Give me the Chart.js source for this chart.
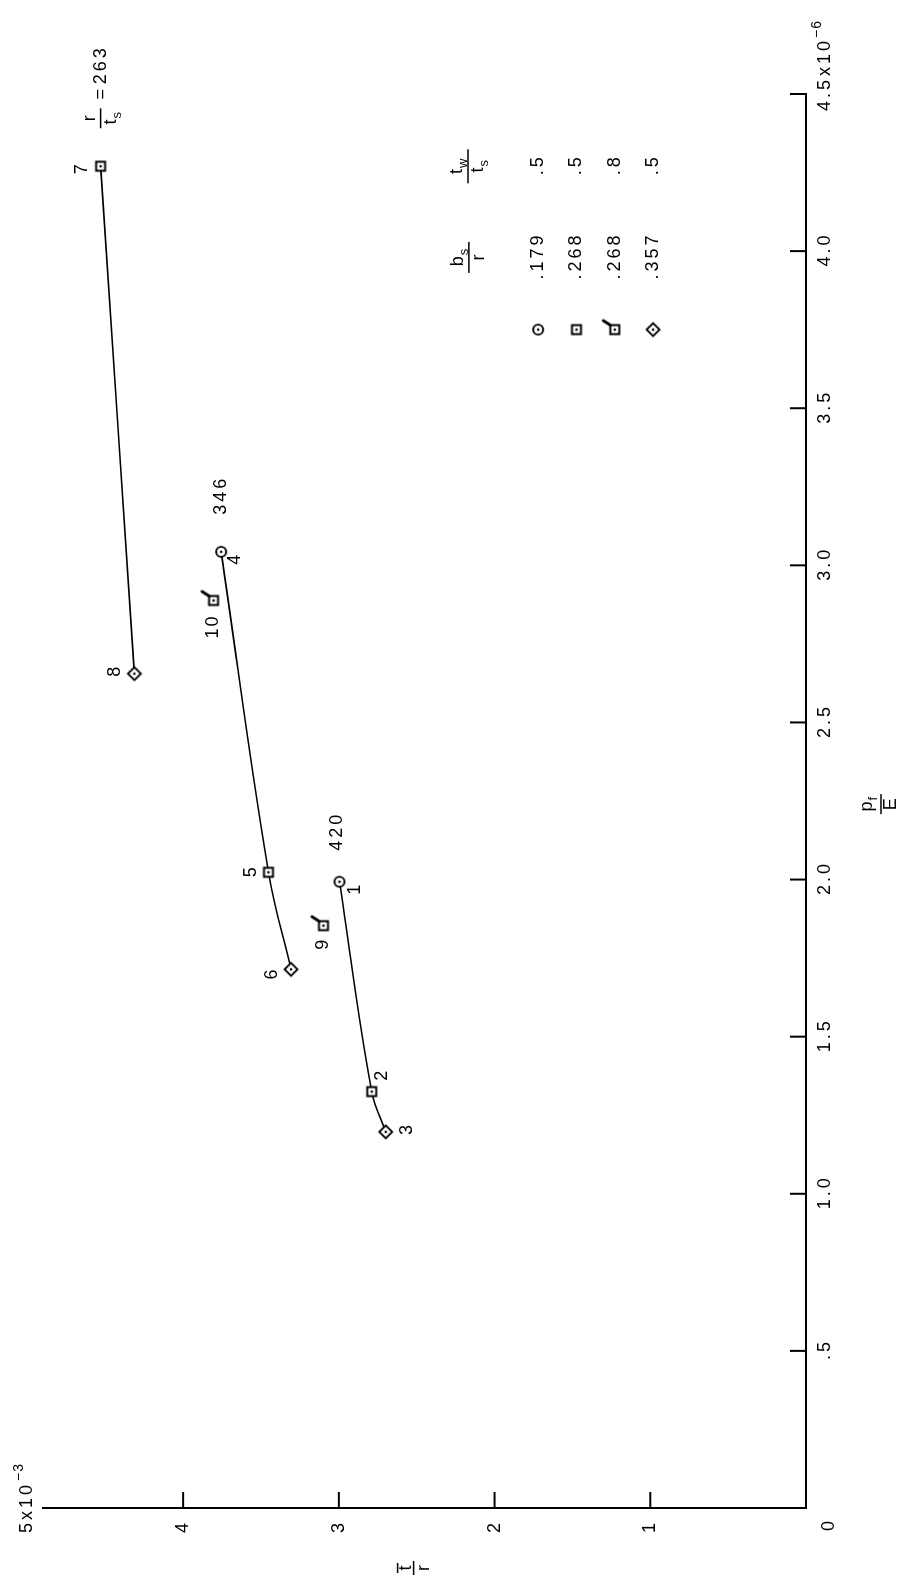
<!DOCTYPE html>
<html><head><meta charset="utf-8">
<script src="https://cdn.jsdelivr.net/npm/chart.js@4.4.0/dist/chart.umd.min.js"></script>
<style>
html,body{margin:0;padding:0;background:#fff;width:902px;height:1581px;overflow:hidden;}
#wrap{position:absolute;left:0;top:0;width:1581px;height:902px;transform-origin:0 0;transform:translateY(1581px) rotate(-90deg);background:#fff;}
</style></head><body>
<div id="wrap"><canvas id="c" width="1581" height="902"></canvas></div>
<script>
// ---- data (x = p_f/E in 1e-6, y = t/r in 1e-3) ----
const ids263 = ['7', '8'];
const pf263  = [4.27, 2.655];
const tr263  = [4.53, 4.313];
const mk263  = ['square', 'diamond'];

const ids346 = ['4', '5', '6'];
const pf346  = [3.043, 2.023, 1.714];
const tr346  = [3.756, 3.452, 3.307];
const mk346  = ['circle', 'square', 'diamond'];

const ids420 = ['1', '2', '3'];
const pf420  = [1.993, 1.325, 1.197];
const tr420  = [2.996, 2.789, 2.699];
const mk420  = ['circle', 'square', 'diamond'];

const idsFlag = ['10', '9'];
const pfFlag  = [2.888, 1.853];
const trFlag  = [3.805, 3.099];

const ratioLabels = ['263', '346', '420'];

const xTickValues = [0.5, 1, 1.5, 2, 2.5, 3, 3.5, 4, 4.5];
const xTickLabels = ['.5', '1.0', '1.5', '2.0', '2.5', '3.0', '3.5', '4.0', '4.5'];
const yTickValues = [1, 2, 3, 4];
const yTickLabels = ['1', '2', '3', '4'];

const legendMarkers = ['circle', 'square', 'flag', 'diamond'];
const legendBsR  = ['.179', '.268', '.268', '.357'];
const legendTwTs = ['.5', '.5', '.8', '.5'];

// ---- marker images (drawn in the unrotated frame) ----
function makeMarker(type) {
  const S = type === 'flag' ? 40 : 22;
  const c = document.createElement('canvas');
  c.width = S; c.height = S;
  const g = c.getContext('2d');
  const m = S / 2;
  g.strokeStyle = '#000'; g.fillStyle = '#fff'; g.lineWidth = 1.8;
  g.beginPath();
  if (type === 'circle') { g.arc(m, m, 5, 0, 2 * Math.PI); }
  else if (type === 'square' || type === 'flag') { g.rect(m - 4.5, m - 4.5, 9, 9); g.lineWidth = 2; }
  else { g.moveTo(m, m - 6.5); g.lineTo(m + 6.5, m); g.lineTo(m, m + 6.5); g.lineTo(m - 6.5, m); g.closePath(); }
  g.fill(); g.stroke();
  if (type === 'flag') {
    g.lineWidth = 3; g.lineCap = 'round';
    g.beginPath(); g.moveTo(m + 4.5, m - 4.5); g.lineTo(m + 9, m - 11.5); g.stroke();
  }
  g.fillStyle = '#000';
  g.beginPath(); g.arc(m, m, 1.3, 0, 2 * Math.PI); g.fill();
  return c;
}
const MK = { circle: makeMarker('circle'), square: makeMarker('square'), diamond: makeMarker('diamond'), flag: makeMarker('flag') };

function curve(ids, pf, tr, mk) {
  return {
    ids: ids,
    data: pf.map((x, i) => ({ x: x, y: tr[i] })),
    pointStyle: mk.map(k => MK[k]),
    pointRadius: 6,
    borderColor: '#000', backgroundColor: '#000',
    borderWidth: 1.6, tension: 0.4, showLine: true, fill: false
  };
}

const FONT = '"Liberation Sans", Arial, sans-serif';
function setFont(ctx, size) { ctx.font = size + 'px ' + FONT; }
function txt(ctx, s, x, y, size, align, ls) {
  setFont(ctx, size || 18);
  const sp = (ls == null ? 3 : ls);
  ctx.letterSpacing = sp + 'px';
  ctx.textAlign = align || 'center';
  ctx.textBaseline = 'middle';
  ctx.fillStyle = '#000';
  const shift = (align === 'center' || !align) ? sp / 2 : 0;
  ctx.fillText(s, x + shift, y);
  const w = ctx.measureText(s).width;
  ctx.letterSpacing = '0px';
  return w;
}
function line(ctx, x1, y1, x2, y2, w) {
  ctx.lineWidth = w || 2;
  ctx.beginPath(); ctx.moveTo(x1, y1); ctx.lineTo(x2, y2); ctx.stroke();
}
function mainSub(ctx, main, sub, cx, baseY) {
  ctx.letterSpacing = '0px';
  ctx.textAlign = 'left'; ctx.textBaseline = 'alphabetic'; ctx.fillStyle = '#000';
  setFont(ctx, 18); const w1 = ctx.measureText(main).width;
  setFont(ctx, 13); const w2 = sub ? ctx.measureText(sub).width + 1 : 0;
  const x0 = cx - (w1 + w2) / 2;
  setFont(ctx, 18); ctx.fillText(main, x0, baseY);
  if (sub) { setFont(ctx, 13); ctx.fillText(sub, x0 + w1 + 1, baseY + 5); }
  return w1 + w2;
}
function frac(ctx, nm, ns, dm, dsub, cx, by, barLen, numUp) {
  mainSub(ctx, nm, ns, cx, by - (numUp || 6));
  mainSub(ctx, dm, dsub, cx, by + 15);
  line(ctx, cx - barLen / 2, by, cx + barLen / 2, by, 1.5);
}

const labelOffsets = {
  '7': [-3, -19], '8': [2, -19], '4': [-8, 14], '10': [-27, 0], '5': [0, -17],
  '6': [-5, -19], '1': [-8, 16], '9': [-19, 0], '2': [16, 10], '3': [2, 21]
};

const deco = {
  id: 'deco',
  afterDraw(chart) {
    const ctx = chart.ctx, xs = chart.scales.x, ys = chart.scales.y, a = chart.chartArea;
    ctx.save();
    ctx.strokeStyle = '#000'; ctx.lineCap = 'butt';
    // inward tick marks
    xTickValues.forEach(v => { const p = xs.getPixelForValue(v); line(ctx, p, a.bottom, p, a.bottom - 16, 2); });
    yTickValues.forEach(v => { const p = ys.getPixelForValue(v); line(ctx, a.left, p, a.left + 16, p, 2); });
    // tick labels
    xTickValues.forEach((v, i) => {
      if (v === 4.5) return;
      txt(ctx, xTickLabels[i], xs.getPixelForValue(v), a.bottom + 19, 18, 'center', 3);
    });
    // 4.5x10^-6
    {
      const cx = xs.getPixelForValue(4.5);
      setFont(ctx, 18); ctx.letterSpacing = '3px';
      const w = ctx.measureText(xTickLabels[8]).width;
      ctx.letterSpacing = '0px';
      const x0 = cx - w / 2;
      txt(ctx, xTickLabels[8], x0, a.bottom + 19, 18, 'left', 3);
      const w2 = txt(ctx, 'x10', x0 + w + 1, a.bottom + 19, 18, 'left', 3);
      txt(ctx, '\u22126', x0 + w + w2 + 1, a.bottom + 11, 14, 'left', 1);
    }
    yTickValues.forEach((v, i) => {
      txt(ctx, yTickLabels[i], a.left - 20, ys.getPixelForValue(v), 18, 'center', 0);
    });
    // 5x10^-3
    {
      const yy = ys.getPixelForValue(5);
      const w = txt(ctx, '5x10', a.left - 25, yy, 18, 'left', 3);
      txt(ctx, '\u22123', a.left - 25 + w + 1, yy - 8, 14, 'left', 1);
    }
    // corner 0
    txt(ctx, '0', a.left - 18, a.bottom + 23, 18, 'center', 0);

    // axis titles
    frac(ctx, 'p', 'f', 'E', '', xs.getPixelForValue(2.24), a.bottom + 75, 20, 9);
    {
      const cx = 13, by = ys.getPixelForValue(2.52);
      mainSub(ctx, 't', '', cx, by - 3);
      line(ctx, cx - 5, by - 16, cx + 5, by - 16, 1.5);
      line(ctx, cx - 7, by, cx + 7, by, 1.5);
      mainSub(ctx, 'r', '', cx, by + 15);
    }

    // point labels
    chart.data.datasets.forEach((ds, di) => {
      const meta = chart.getDatasetMeta(di);
      meta.data.forEach((pt, i) => {
        const id = ds.ids[i];
        const o = labelOffsets[id];
        txt(ctx, id, pt.x + o[0], pt.y + o[1], 18, 'center', 2);
      });
    });
    // ratio labels r/t_s
    {
      const p7 = chart.getDatasetMeta(0).data[0];
      frac(ctx, 'r', '', 't', 's', p7.x + 48, p7.y, 20, 6);
      txt(ctx, '=', p7.x + 72, p7.y, 18, 'center', 0);
      txt(ctx, ratioLabels[0], p7.x + 100, p7.y, 18, 'center', 3);
      const p4 = chart.getDatasetMeta(1).data[0];
      txt(ctx, ratioLabels[1], p4.x + 55, p4.y, 18, 'center', 3);
      const p1 = chart.getDatasetMeta(2).data[0];
      txt(ctx, ratioLabels[2], p1.x + 49, p1.y - 2, 18, 'center', 3);
    }

    // legend table
    {
      const symX = xs.getPixelForValue(3.75), bsX = xs.getPixelForValue(3.98), twX = xs.getPixelForValue(4.27);
      const rowY0 = ys.getPixelForValue(1.72), rowStep = 38.3;
      frac(ctx, 'b', 's', 'r', '', bsX, ys.getPixelForValue(2.165), 31, 6);
      frac(ctx, 't', 'w', 't', 's', twX, ys.getPixelForValue(2.17), 34, 6);
      legendMarkers.forEach((m, i) => {
        const y = rowY0 + i * rowStep;
        const img = MK[m];
        ctx.drawImage(img, symX - img.width / 2, y - img.height / 2);
        txt(ctx, legendBsR[i], bsX, y, 18, 'center', 3);
        txt(ctx, legendTwTs[i], twX, y, 18, 'center', 3);
      });
    }
    ctx.restore();
  }
};

new Chart(document.getElementById('c'), {
  type: 'scatter',
  data: {
    datasets: [
      curve(ids263, pf263, tr263, mk263),
      curve(ids346, pf346, tr346, mk346),
      curve(ids420, pf420, tr420, mk420),
      Object.assign(curve(idsFlag, pfFlag, trFlag, ['flag', 'flag']), { showLine: false })
    ]
  },
  options: {
    responsive: false, animation: false, devicePixelRatio: 1,
    layout: { padding: { left: 0, right: 94, top: 43, bottom: 0 } },
    plugins: { legend: { display: false }, tooltip: { enabled: false } },
    scales: {
      x: {
        type: 'linear', min: 0, max: 4.5,
        ticks: { display: false, stepSize: 0.5 },
        grid: { display: false, drawTicks: false },
        border: { display: true, color: '#000', width: 2 },
        afterFit(s) { s.height = 96; }
      },
      y: {
        type: 'linear', min: 0, max: 4.9,
        ticks: { display: false, stepSize: 1 },
        grid: { display: false, drawTicks: false },
        border: { display: true, color: '#000', width: 2 },
        afterFit(s) { s.width = 73; }
      }
    }
  },
  plugins: [deco]
});
</script>
</body></html>
